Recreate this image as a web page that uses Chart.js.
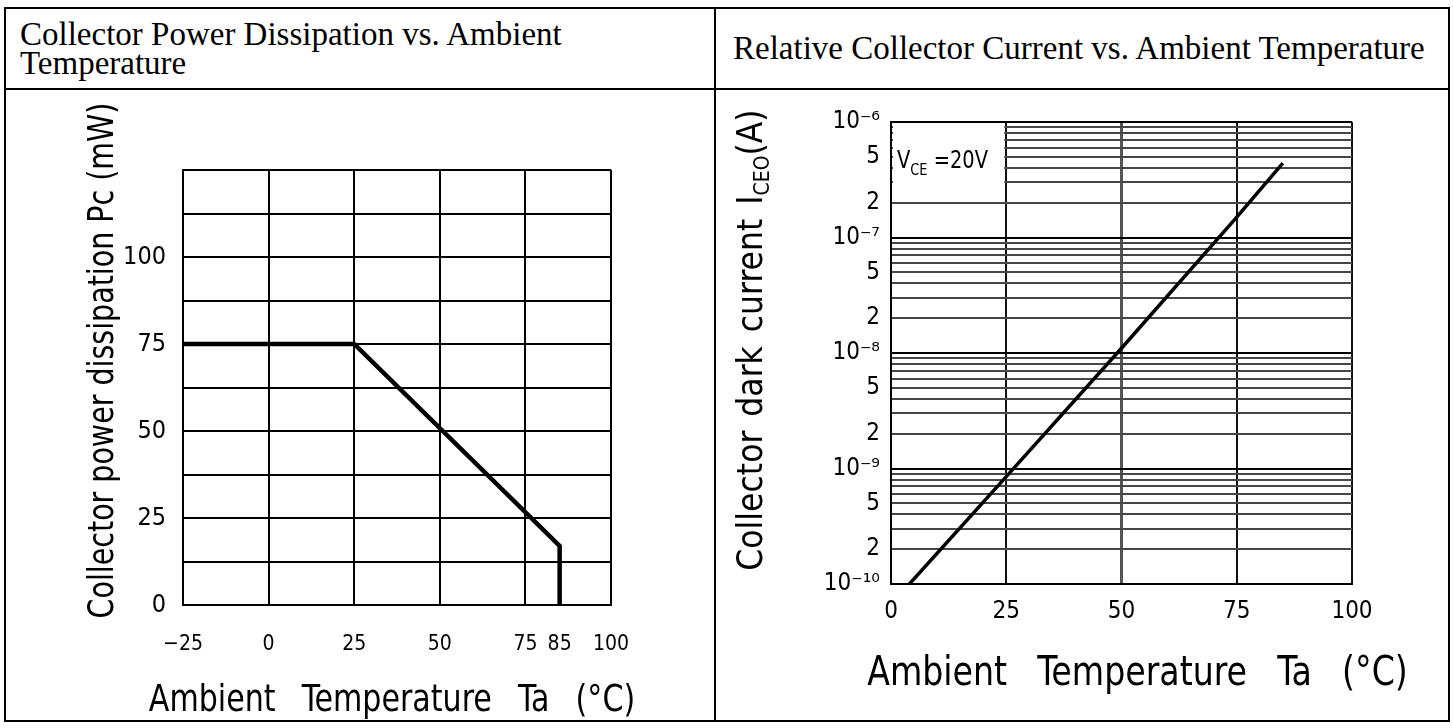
<!DOCTYPE html>
<html>
<head>
<meta charset="utf-8">
<title>Collector Power Dissipation / Relative Collector Current vs. Ambient Temperature</title>
<script src="https://cdn.jsdelivr.net/npm/chart.js@4.4.1/dist/chart.umd.min.js"></script>
<style>
    body { margin: 0; background: #fff; width: 1453px; height: 728px; overflow: hidden; position: relative; }
    .frame { position: absolute; left: 4px; top: 7px; width: 1446px; height: 715px; border: 2px solid #000; box-sizing: border-box; }
    .hline { position: absolute; left: 4px; top: 88px; width: 1446px; height: 2px; background: #000; }
    .vline { position: absolute; left: 714px; top: 7px; width: 2px; height: 715px; background: #000; }
    .head { position: absolute; top: 9px; height: 79px; display: flex; align-items: center;
            font-family: 'Liberation Serif', 'Times New Roman', serif; font-size: 33px; line-height: 29px; color: #000; }
    #headLeft { left: 20px; width: 680px; }
    #headRight { left: 733px; width: 715px; white-space: nowrap; }
    .cell { position: absolute; top: 90px; height: 630px; }
    #cellLeft { left: 6px; width: 707px; }
    #cellRight { left: 716px; width: 733px; }
</style>
</head>
<body>
<div class="frame"></div>
<div class="hline"></div>
<div class="vline"></div>
<div class="head" id="headLeft">Collector Power Dissipation vs. Ambient Temperature</div>
<div class="head" id="headRight">Relative Collector Current vs. Ambient Temperature</div>
<div class="cell" id="cellLeft"><canvas id="powerChart"></canvas></div>
<div class="cell" id="cellRight"><canvas id="darkCurrentChart"></canvas></div>

<script>
// Collector power dissipation Pc (mW) vs. ambient temperature Ta (°C)
const pcTemps = [-25, 25, 85, 85];
const pcValues = [75, 75, 17, 0];
const pcTempTicks = [-25, 0, 25, 50, 75, 85, 100];
const pcPowerTicks = [0, 25, 50, 75, 100];

// Collector dark current ICEO (A) vs. ambient temperature Ta (°C), VCE = 20 V
const iceoTemps = [4, 25, 50, 75, 85];
const iceoValues = [1e-10, 8.5e-10, 1.1e-8, 1.5e-7, 4.4e-7];
const iceoTempTicks = [0, 25, 50, 75, 100];
const iceoDecades = [-10, -9, -8, -7, -6];
const iceoDecadeLabels = ['10⁻¹⁰', '10⁻⁹', '10⁻⁸', '10⁻⁷', '10⁻⁶'];
const iceoMantissas = [1, 2, 3, 4, 5, 6, 7, 8, 9];
const iceoMantissaLabels = ['', '2', '', '', '5', '', '', '', ''];

const cadFont = "'DejaVu Sans Condensed', 'DejaVu Sans', sans-serif";

Chart.defaults.color = '#000';
Chart.defaults.animation = false;
Chart.defaults.plugins.legend.display = false;
Chart.defaults.plugins.tooltip.enabled = false;

// every decade gets 1..9 gridlines, the last decade only its 1
function buildIceoTicks() {
    const ticks = [];
    iceoDecades.forEach((exp, d) => {
        iceoMantissas.forEach((m, i) => {
            if (d === iceoDecades.length - 1 && m > 1) return;
            ticks.push({
                value: m * Math.pow(10, exp),
                label: m === 1 ? iceoDecadeLabels[d] : iceoMantissaLabels[i],
                major: m === 1
            });
        });
    });
    return ticks;
}
const iceoTicks = buildIceoTicks();

// splits a text piece into words so the drawing can open up the word spacing
function pieceRuns(ctx, p) {
    ctx.font = p.font;
    const words = p.gap ? p.text.split(' ') : [p.text];
    const space = ctx.measureText(' ').width + (p.gap || 0);
    return words.map((w, i) => ({ text: w, width: ctx.measureText(w).width, advance: i < words.length - 1 ? space : 0 }));
}

// draws a run of text pieces (for subscripts) starting or centred at x,y;
// squeeze narrows the glyphs like the plotter lettering of the original
function drawTextRun(ctx, parts, x, y, rotation, align, squeeze) {
    ctx.save();
    ctx.translate(x, y);
    ctx.rotate(rotation);
    ctx.scale(squeeze || 1, 1);
    ctx.fillStyle = '#000';
    ctx.textBaseline = 'alphabetic';
    ctx.textAlign = 'left';
    const runs = parts.map(p => pieceRuns(ctx, p));
    let width = 0;
    runs.forEach(r => r.forEach(w => { width += w.width + w.advance; }));
    let cursor = align === 'center' ? -width / 2 : 0;
    parts.forEach((p, i) => {
        ctx.font = p.font;
        runs[i].forEach(w => {
            ctx.fillText(w.text, cursor, p.dy || 0);
            cursor += w.width + w.advance;
        });
    });
    ctx.restore();
}

// axis titles drawn by hand (Chart.js titles can't do subscripts)
const axisTitlesPlugin = {
    id: 'axisTitles',
    afterDraw(chart, args, opts) {
        const area = chart.chartArea;
        const midX = (area.left + area.right) / 2;
        const midY = (area.top + area.bottom) / 2;
        drawTextRun(chart.ctx, opts.x.parts, midX + opts.x.shift, area.bottom + opts.x.baseline, 0, 'center', opts.x.squeeze);
        drawTextRun(chart.ctx, opts.y.parts, area.left - opts.y.baseline, midY - opts.y.shift, -Math.PI / 2, 'center', opts.y.squeeze);
    }
};

// white box with the test condition in the top left cell
const vceNote = { tempFrom: 0, tempTo: 25, currentFrom: 2.6e-7, currentTo: 1e-6 };
const vceNotePlugin = {
    id: 'vceNote',
    beforeDatasetsDraw(chart) {
        const {ctx, scales} = chart;
        const left = scales.x.getPixelForValue(vceNote.tempFrom) + 2;
        const right = scales.x.getPixelForValue(vceNote.tempTo) - 2;
        const top = scales.y.getPixelForValue(vceNote.currentTo) + 2;
        const bottom = scales.y.getPixelForValue(vceNote.currentFrom);
        ctx.save();
        ctx.fillStyle = '#fff';
        ctx.fillRect(left, top, right - left, bottom - top);
        ctx.restore();
        drawTextRun(ctx, [
            { text: 'V', font: `24px ${cadFont}` },
            { text: 'CE', font: `16px ${cadFont}`, dy: 7 },
            { text: ' =20V', font: `24px ${cadFont}` }
        ], left + 4, top + 44, 0, 'left', 0.9);
    }
};

function minusSign(v) {
    return String(v).replace('-', '−');
}

function renderPowerChart() {
    const ctx = document.getElementById('powerChart').getContext('2d');
    return new Chart(ctx, {
        type: 'line',
        data: {
            datasets: [{
                data: pcTemps.map((t, i) => ({ x: t, y: pcValues[i] })),
                borderColor: '#000',
                borderWidth: 4.5,
                borderJoinStyle: 'miter',
                pointRadius: 0,
                tension: 0
            }]
        },
        options: {
            responsive: true,
            maintainAspectRatio: false,
            layout: { padding: { top: 80, right: 102, bottom: 0, left: 0 } },
            scales: {
                x: {
                    type: 'linear',
                    min: -25,
                    max: 100,
                    afterBuildTicks: scale => { scale.ticks = pcTempTicks.map(v => ({ value: v })); },
                    afterFit: scale => { scale.height = 115; },
                    grid: {
                        color: c => (c.tick && c.tick.value === 85) ? 'rgba(0,0,0,0)' : '#000',
                        lineWidth: 2,
                        drawTicks: false
                    },
                    border: { color: '#000', width: 2 },
                    ticks: {
                        padding: 27,
                        autoSkip: false,
                        maxRotation: 0,
                        font: { family: cadFont, size: 21 },
                        callback: v => minusSign(v)
                    }
                },
                y: {
                    min: 0,
                    max: 125,
                    afterFit: scale => { scale.width = 177; },
                    grid: { color: '#000', lineWidth: 2, drawTicks: false },
                    border: { color: '#000', width: 2 },
                    ticks: {
                        stepSize: 12.5,
                        padding: 17,
                        autoSkip: false,
                        font: { family: cadFont, size: 25 },
                        callback: v => pcPowerTicks.includes(v) ? v : ''
                    }
                }
            },
            plugins: {
                axisTitles: {
                    x: { baseline: 106, shift: -5, squeeze: 0.88,
                         parts: [{ text: 'Ambient Temperature Ta (°C)', font: `38px ${cadFont}`, gap: 19 }] },
                    y: { baseline: 70, shift: 27, squeeze: 0.88,
                         parts: [{ text: 'Collector power dissipation Pc (mW)', font: `36px ${cadFont}` }] }
                }
            }
        },
        plugins: [axisTitlesPlugin]
    });
}

function renderDarkCurrentChart() {
    const ctx = document.getElementById('darkCurrentChart').getContext('2d');
    return new Chart(ctx, {
        type: 'line',
        data: {
            datasets: [{
                data: iceoTemps.map((t, i) => ({ x: t, y: iceoValues[i] })),
                borderColor: '#000',
                borderWidth: 3.5,
                pointRadius: 0,
                tension: 0
            }]
        },
        options: {
            responsive: true,
            maintainAspectRatio: false,
            layout: { padding: { top: 32, right: 97, bottom: 0, left: 0 } },
            scales: {
                x: {
                    type: 'linear',
                    min: 0,
                    max: 100,
                    afterBuildTicks: scale => { scale.ticks = iceoTempTicks.map(v => ({ value: v })); },
                    afterFit: scale => { scale.height = 136; },
                    grid: {
                        color: c => (c.tick && c.tick.value === 50) ? '#555' : '#111',
                        lineWidth: c => (c.tick && c.tick.value === 50) ? 3 : 2,
                        drawTicks: false
                    },
                    border: { color: '#000', width: 2 },
                    ticks: { padding: 13, autoSkip: false, maxRotation: 0, font: { family: cadFont, size: 24 } }
                },
                y: {
                    type: 'logarithmic',
                    min: 1e-10,
                    max: 1e-6,
                    afterBuildTicks: scale => {
                        scale.ticks = iceoTicks.map(t => ({ value: t.value, major: t.major }));
                    },
                    afterFit: scale => { scale.width = 175; },
                    grid: {
                        color: c => (iceoTicks[c.index] && iceoTicks[c.index].major) ? '#000' : '#474747',
                        lineWidth: 2,
                        drawTicks: false
                    },
                    border: { color: '#000', width: 2 },
                    ticks: {
                        padding: 11,
                        autoSkip: false,
                        font: { family: cadFont, size: 24 },
                        callback: (v, i) => iceoTicks[i] ? iceoTicks[i].label : ''
                    }
                }
            },
            plugins: {
                axisTitles: {
                    x: { baseline: 101, shift: 16, squeeze: 0.9,
                         parts: [{ text: 'Ambient Temperature Ta (°C)', font: `41px ${cadFont}`, gap: 22 }] },
                    y: {
                        baseline: 129,
                        shift: 13,
                        squeeze: 1,
                        parts: [
                            { text: 'Collector dark current I', font: `35px ${cadFont}`, gap: 4 },
                            { text: 'CEO', font: `21px ${cadFont}`, dy: 7 },
                            { text: '(A)', font: `35px ${cadFont}` }
                        ]
                    }
                }
            }
        },
        plugins: [axisTitlesPlugin, vceNotePlugin]
    });
}

document.addEventListener('DOMContentLoaded', () => {
    renderPowerChart();
    renderDarkCurrentChart();
});
</script>
</body>
</html>
